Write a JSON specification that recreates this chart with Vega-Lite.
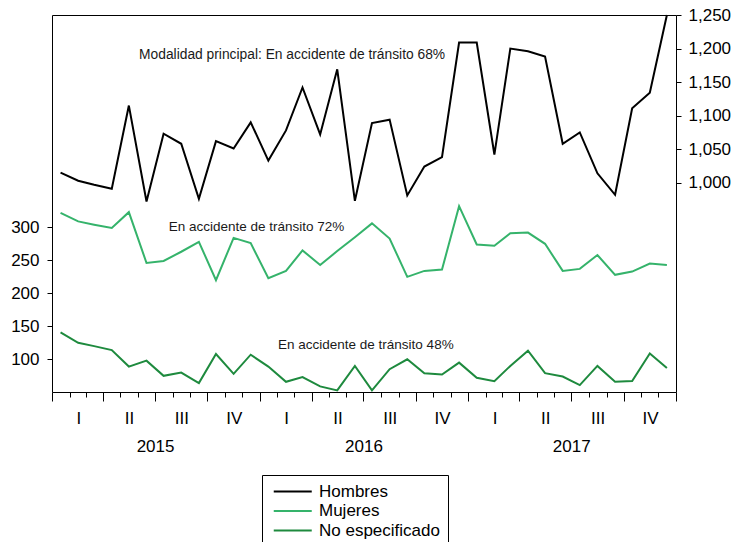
{
  "$schema": "https://vega.github.io/schema/vega-lite/v6.json",
  "width": 624,
  "height": 377,
  "autosize": "none",
  "padding": {"left": 52, "top": 15, "right": 56, "bottom": 150},
  "background": "white",
  "config": {
    "view": {"stroke": "black", "strokeWidth": 1},
    "font": "Liberation Sans",
    "axis": {"labelFont": "Liberation Sans", "labelColor": "black", "tickColor": "black", "domain": false, "grid": false, "title": null}
  },
  "data": {
    "values": [
      {"fecha": "2015-01-16", "Hombres": 1015, "Mujeres": 322, "No especificado": 141},
      {"fecha": "2015-02-16", "Hombres": 1003, "Mujeres": 309, "No especificado": 125},
      {"fecha": "2015-03-16", "Hombres": 997, "Mujeres": 304, "No especificado": 120},
      {"fecha": "2015-04-16", "Hombres": 991, "Mujeres": 299, "No especificado": 114},
      {"fecha": "2015-05-16", "Hombres": 1115, "Mujeres": 323, "No especificado": 89},
      {"fecha": "2015-06-16", "Hombres": 972, "Mujeres": 246, "No especificado": 98},
      {"fecha": "2015-07-16", "Hombres": 1073, "Mujeres": 249, "No especificado": 75},
      {"fecha": "2015-08-16", "Hombres": 1058, "Mujeres": 263, "No especificado": 80},
      {"fecha": "2015-09-16", "Hombres": 976, "Mujeres": 278, "No especificado": 64},
      {"fecha": "2015-10-16", "Hombres": 1062, "Mujeres": 220, "No especificado": 108},
      {"fecha": "2015-11-16", "Hombres": 1051, "Mujeres": 284, "No especificado": 78},
      {"fecha": "2015-12-16", "Hombres": 1090, "Mujeres": 276, "No especificado": 107},
      {"fecha": "2016-01-16", "Hombres": 1033, "Mujeres": 223, "No especificado": 89},
      {"fecha": "2016-02-16", "Hombres": 1078, "Mujeres": 234, "No especificado": 66},
      {"fecha": "2016-03-16", "Hombres": 1142, "Mujeres": 265, "No especificado": 73},
      {"fecha": "2016-04-16", "Hombres": 1072, "Mujeres": 243, "No especificado": 59},
      {"fecha": "2016-05-16", "Hombres": 1169, "Mujeres": 264, "No especificado": 53},
      {"fecha": "2016-06-16", "Hombres": 973, "Mujeres": 285, "No especificado": 90},
      {"fecha": "2016-07-16", "Hombres": 1089, "Mujeres": 306, "No especificado": 53},
      {"fecha": "2016-08-16", "Hombres": 1094, "Mujeres": 283, "No especificado": 85},
      {"fecha": "2016-09-16", "Hombres": 981, "Mujeres": 225, "No especificado": 100},
      {"fecha": "2016-10-16", "Hombres": 1024, "Mujeres": 234, "No especificado": 79},
      {"fecha": "2016-11-16", "Hombres": 1038, "Mujeres": 236, "No especificado": 77},
      {"fecha": "2016-12-16", "Hombres": 1209, "Mujeres": 332, "No especificado": 95},
      {"fecha": "2017-01-16", "Hombres": 1209, "Mujeres": 274, "No especificado": 72},
      {"fecha": "2017-02-16", "Hombres": 1042, "Mujeres": 272, "No especificado": 67},
      {"fecha": "2017-03-16", "Hombres": 1200, "Mujeres": 291, "No especificado": 90},
      {"fecha": "2017-04-16", "Hombres": 1196, "Mujeres": 292, "No especificado": 113},
      {"fecha": "2017-05-16", "Hombres": 1188, "Mujeres": 275, "No especificado": 79},
      {"fecha": "2017-06-16", "Hombres": 1058, "Mujeres": 234, "No especificado": 74},
      {"fecha": "2017-07-16", "Hombres": 1075, "Mujeres": 237, "No especificado": 61},
      {"fecha": "2017-08-16", "Hombres": 1014, "Mujeres": 258, "No especificado": 90},
      {"fecha": "2017-09-16", "Hombres": 982, "Mujeres": 228, "No especificado": 66},
      {"fecha": "2017-10-16", "Hombres": 1111, "Mujeres": 233, "No especificado": 67},
      {"fecha": "2017-11-16", "Hombres": 1134, "Mujeres": 245, "No especificado": 109},
      {"fecha": "2017-12-16", "Hombres": 1250, "Mujeres": 243, "No especificado": 87}
    ]
  },
  "encoding": {
    "x": {
      "field": "fecha",
      "type": "temporal",
      "scale": {"type": "utc", "domain": [{"year": 2015, "month": 1, "date": 1, "utc": true}, {"year": 2018, "month": 1, "date": 1, "utc": true}]},
      "axis": {
        "title": null,
        "tickCount": {"interval": "month", "step": 1},
        "labelExpr": "utcmonth(datum.value) == 1 ? 'I' : utcmonth(datum.value) == 4 ? 'II' : utcmonth(datum.value) == 7 ? 'III' : utcmonth(datum.value) == 10 ? 'IV' : utcmonth(datum.value) == 6 ? toString(utcyear(datum.value)) : ''",
        "labelOverlap": false,
        "labelBound": false,
        "labelFlush": false,
        "labelFontSize": 17,
        "labelAlign": "center",
        "labelBaseline": "top",
        "tickSize": {"condition": {"test": "utcmonth(datum.value) % 3 == 0", "value": 9}, "value": 5},
        "labelOffset": {"condition": {"test": "utcmonth(datum.value) == 6", "value": 0}, "value": 8.67},
        "labelPadding": {"condition": {"test": "utcmonth(datum.value) == 6", "value": 37}, "value": 13}
      }
    }
  },
  "layer": [
    {
      "transform": [{"fold": ["Hombres"], "as": ["serie", "valor"]}],
      "mark": {"type": "line", "strokeWidth": 2},
      "encoding": {
        "y": {
          "field": "valor",
          "type": "quantitative",
          "scale": {"domain": [688, 1250], "nice": false, "zero": false},
          "axis": {"orient": "right", "values": [1000, 1050, 1100, 1150, 1200, 1250], "format": ",.0f", "labelFontSize": 17, "tickSize": 5, "labelPadding": 7, "title": null}
        },
        "color": {
          "field": "serie",
          "type": "nominal",
          "scale": {"domain": ["Hombres", "Mujeres", "No especificado"], "range": ["#000000", "#35b36b", "#1e8a3e"]},
          "legend": {"title": null, "orient": "none", "legendX": 210, "legendY": 460, "direction": "vertical", "symbolType": "M-1,0L7,0", "symbolSize": 90.25, "symbolStrokeWidth": 2, "labelFontSize": 17, "labelFont": "Liberation Sans", "labelColor": "black", "strokeColor": "black", "fillColor": "white", "padding": 8, "rowPadding": 1.5, "labelOffset": 32}
        }
      }
    },
    {
      "transform": [{"fold": ["Mujeres", "No especificado"], "as": ["serie", "valor"]}],
      "mark": {"type": "line", "strokeWidth": 2},
      "encoding": {
        "y": {
          "field": "valor",
          "type": "quantitative",
          "scale": {"domain": [50.5, 621.7], "nice": false, "zero": false},
          "axis": {"orient": "left", "values": [100, 150, 200, 250, 300], "labelFontSize": 17, "tickSize": 5, "labelPadding": 8, "title": null}
        },
        "color": {
          "field": "serie",
          "type": "nominal",
          "scale": {"domain": ["Hombres", "Mujeres", "No especificado"], "range": ["#000000", "#35b36b", "#1e8a3e"]},
          "legend": {"title": null, "orient": "none", "legendX": 210, "legendY": 460, "direction": "vertical", "symbolType": "M-1,0L7,0", "symbolSize": 90.25, "symbolStrokeWidth": 2, "labelFontSize": 17, "labelFont": "Liberation Sans", "labelColor": "black", "strokeColor": "black", "fillColor": "white", "padding": 8, "rowPadding": 1.5, "labelOffset": 32}
        }
      }
    },
    {
      "data": {"values": [{"texto": "Modalidad principal: En accidente de tránsito 68%", "fecha": "2015-06-03", "valor": 1190}]},
      "mark": {"type": "text", "align": "left", "baseline": "middle", "fontSize": 13.8, "color": "#1a1a1a"},
      "encoding": {
        "y": {"field": "valor", "type": "quantitative", "scale": {"domain": [688, 1250], "nice": false, "zero": false}, "axis": null},
        "text": {"field": "texto"}
      }
    },
    {
      "data": {"values": [
        {"texto": "En accidente de tránsito 72%", "fecha": "2015-07-25", "valor": 300},
        {"texto": "En accidente de tránsito 48%", "fecha": "2016-02-02", "valor": 121}
      ]},
      "mark": {"type": "text", "align": "left", "baseline": "middle", "fontSize": 13.5, "color": "#1a1a1a"},
      "encoding": {
        "y": {"field": "valor", "type": "quantitative", "scale": {"domain": [50.5, 621.7], "nice": false, "zero": false}, "axis": null},
        "text": {"field": "texto"}
      }
    }
  ],
  "resolve": {"scale": {"y": "independent"}, "axis": {"y": "independent"}}
}
